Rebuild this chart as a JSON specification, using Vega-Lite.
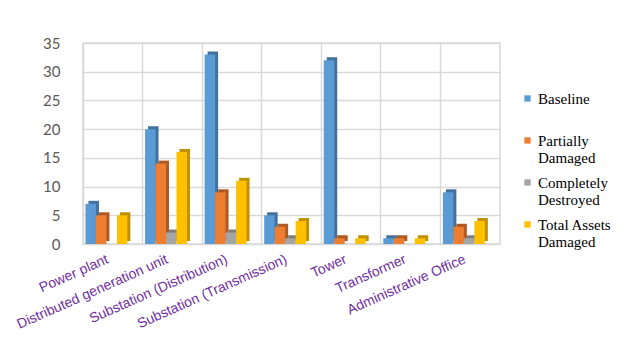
{
  "$schema": "https://vega.github.io/schema/vega-lite/v6.json",
  "width": 417,
  "height": 201,
  "autosize": {"type": "none"},
  "padding": {"left": 83, "top": 43, "right": 130, "bottom": 109},
  "background": "white",
  "config": {
    "view": {"stroke": "#d9d9d9", "strokeWidth": 1.5},
    "axis": {"gridColor": "#d9d9d9", "gridWidth": 1.5, "domain": false, "ticks": false, "title": null},
    "legend": {
      "title": null,
      "symbolType": "M-1,1.2H1V3.2H-1Z",
      "symbolSize": 40,
      "symbolStrokeWidth": 0,
      "labelFont": "Liberation Serif",
      "labelFontSize": 15,
      "labelColor": "#000000",
      "labelBaseline": "top",
      "labelOffset": 3,
      "rowPadding": 2
    }
  },
  "data": {
    "values": [
      {"asset": "Power plant", "series": "Baseline", "count": 7},
      {"asset": "Power plant", "series": "Partially Damaged", "count": 5},
      {"asset": "Power plant", "series": "Completely Destroyed", "count": 0},
      {"asset": "Power plant", "series": "Total Assets Damaged", "count": 5},
      {"asset": "Distributed generation unit", "series": "Baseline", "count": 20},
      {"asset": "Distributed generation unit", "series": "Partially Damaged", "count": 14},
      {"asset": "Distributed generation unit", "series": "Completely Destroyed", "count": 2},
      {"asset": "Distributed generation unit", "series": "Total Assets Damaged", "count": 16},
      {"asset": "Substation (Distribution)", "series": "Baseline", "count": 33},
      {"asset": "Substation (Distribution)", "series": "Partially Damaged", "count": 9},
      {"asset": "Substation (Distribution)", "series": "Completely Destroyed", "count": 2},
      {"asset": "Substation (Distribution)", "series": "Total Assets Damaged", "count": 11},
      {"asset": "Substation (Transmission)", "series": "Baseline", "count": 5},
      {"asset": "Substation (Transmission)", "series": "Partially Damaged", "count": 3},
      {"asset": "Substation (Transmission)", "series": "Completely Destroyed", "count": 1},
      {"asset": "Substation (Transmission)", "series": "Total Assets Damaged", "count": 4},
      {"asset": "Tower", "series": "Baseline", "count": 32},
      {"asset": "Tower", "series": "Partially Damaged", "count": 1},
      {"asset": "Tower", "series": "Completely Destroyed", "count": 0},
      {"asset": "Tower", "series": "Total Assets Damaged", "count": 1},
      {"asset": "Transformer", "series": "Baseline", "count": 1},
      {"asset": "Transformer", "series": "Partially Damaged", "count": 1},
      {"asset": "Transformer", "series": "Completely Destroyed", "count": 0},
      {"asset": "Transformer", "series": "Total Assets Damaged", "count": 1},
      {"asset": "Administrative Office", "series": "Baseline", "count": 9},
      {"asset": "Administrative Office", "series": "Partially Damaged", "count": 3},
      {"asset": "Administrative Office", "series": "Completely Destroyed", "count": 1},
      {"asset": "Administrative Office", "series": "Total Assets Damaged", "count": 4}
    ]
  },
  "encoding": {
    "x": {
      "field": "asset",
      "type": "nominal",
      "sort": null,
      "scale": {"paddingInner": 0, "paddingOuter": 0},
      "axis": {
        "grid": true,
        "bandPosition": 0,
        "labelAngle": -24,
        "labelAlign": "right",
        "labelBaseline": "top",
        "labelOffset": -8,
        "labelPadding": 8,
        "labelFont": "Liberation Sans",
        "labelFontSize": 14,
        "labelColor": "#7030A0",
        "labelLimit": 300
      }
    },
    "y": {
      "field": "count",
      "type": "quantitative",
      "scale": {"domain": [0, 35], "nice": false},
      "axis": {
        "values": [0, 5, 10, 15, 20, 25, 30, 35],
        "grid": true,
        "labelFont": "Lato",
        "labelFontSize": 15,
        "labelColor": "#595959",
        "labelPadding": 23
      }
    }
  },
  "layer": [
    {
      "mark": {"type": "bar", "yOffset": -3},
      "encoding": {
        "xOffset": {
          "field": "series",
          "type": "nominal",
          "scale": {
            "domain": ["Baseline", "Partially Damaged", "Completely Destroyed", "Total Assets Damaged"],
            "paddingInner": 0,
            "paddingOuter": 0.84,
            "align": 0.31
          }
        },
        "color": {
          "field": "series",
          "type": "nominal",
          "scale": {
            "domain": ["Baseline", "Partially Damaged", "Completely Destroyed", "Total Assets Damaged"],
            "range": ["#41719C", "#AE5A21", "#7C7C7C", "#BF9000"]
          },
          "legend": null
        }
      }
    },
    {
      "mark": {"type": "bar"},
      "encoding": {
        "xOffset": {
          "field": "series",
          "type": "nominal",
          "scale": {
            "domain": ["Baseline", "Partially Damaged", "Completely Destroyed", "Total Assets Damaged"],
            "paddingInner": 0,
            "paddingOuter": 0.84,
            "align": 0.14
          }
        },
        "color": {
          "field": "series",
          "type": "nominal",
          "scale": {
            "domain": ["Baseline", "Partially Damaged", "Completely Destroyed", "Total Assets Damaged"],
            "range": ["#5B9BD5", "#ED7D31", "#A5A5A5", "#FFC000"]
          },
          "legend": {
            "orient": "none",
            "legendX": 437,
            "legendY": 41,
            "labelExpr": "datum.label == 'Partially Damaged' ? ['Partially', 'Damaged'] : datum.label == 'Completely Destroyed' ? ['Completely', 'Destroyed'] : datum.label == 'Total Assets Damaged' ? ['Total Assets', 'Damaged'] : ['Baseline', ' ']"
          }
        }
      }
    },
    {
      "mark": {"type": "rule", "color": "#70AD47", "strokeWidth": 2.5, "strokeDash": [2, 4]},
      "encoding": {"y": {"datum": 0}}
    }
  ],
  "resolve": {
    "scale": {"xOffset": "independent", "color": "independent"},
    "legend": {"color": "independent"}
  }
}
